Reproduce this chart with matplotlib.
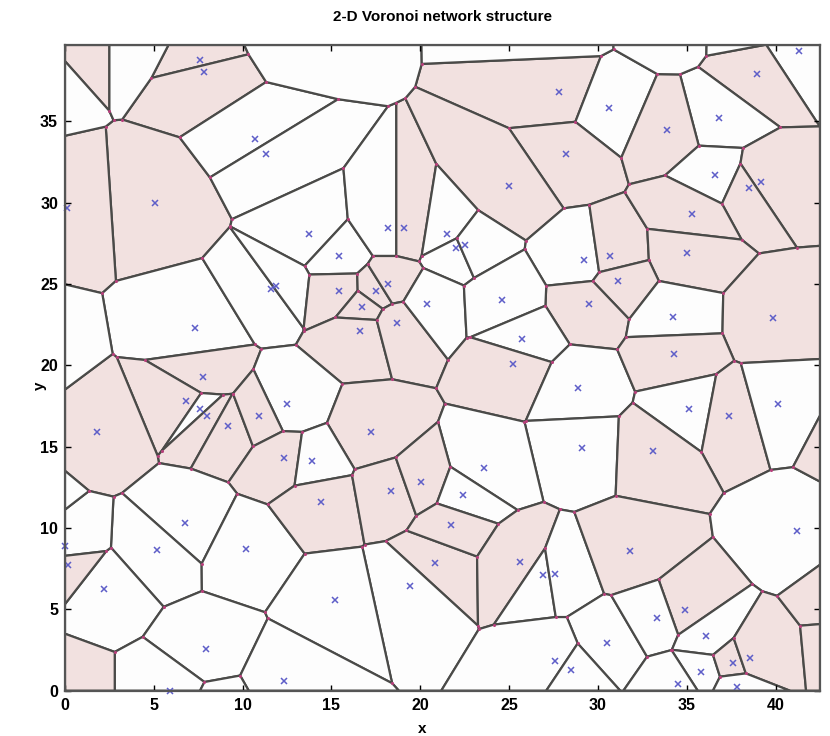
import numpy as np
import matplotlib
matplotlib.use("Agg")
import matplotlib.pyplot as plt
from matplotlib.patches import Polygon

plt.rcParams["font.family"] = ["Liberation Sans", "DejaVu Sans"]

# Nuclei of the network (x, y) and whether their cell is shaded
site_x = [7.6, 7.8, 5.07, 0.1, 10.7, 11.3, 13.75, 15.4, 18.2, 19.1,
          27.8, 30.6, 28.2, 25.0, 21.5, 22.0, 22.5, 29.2, 30.7, 41.3,
          38.97, 36.8, 33.9, 36.6, 39.15, 38.5, 35.3, 35.0, 7.3, 7.76,
          6.8, 7.6, 8.0, 9.17, 1.8, 11.6, 11.9, 15.45, 17.5, 18.2,
          16.7, 16.6, 18.7, 20.4, 12.5, 10.9, 17.2, 12.35, 13.9, 31.1,
          29.5, 24.6, 25.7, 25.2, 28.9, 29.1, 23.6, 34.2, 39.85, 34.3,
          35.1, 37.4, 40.15, 33.1, 6.76, 5.17, 10.2, 2.2, 0.0, 0.15,
          7.94, 5.9, 14.4, 18.35, 20.05, 20.8, 19.4, 15.2, 12.35, 22.4,
          21.75, 25.6, 26.9, 27.6, 31.8, 30.5, 27.6, 28.5, 41.2, 34.9,
          33.3, 36.1, 35.8, 37.6, 38.55, 34.5, 37.8]
site_y = [38.8, 38.05, 30.0, 29.7, 33.9, 33.0, 28.1, 26.7, 28.45, 28.45,
          36.8, 35.8, 33.0, 31.0, 28.1, 27.2, 27.4, 26.5, 26.7, 39.3,
          37.9, 35.2, 34.5, 31.7, 31.3, 30.9, 29.3, 26.9, 22.3, 19.3,
          17.8, 17.3, 16.9, 16.3, 15.9, 24.7, 24.9, 24.55, 24.6, 25.0,
          23.6, 22.1, 22.6, 23.8, 17.6, 16.9, 15.9, 14.3, 14.1, 25.2,
          23.8, 24.0, 21.6, 20.1, 18.6, 14.9, 13.7, 23.0, 22.9, 20.7,
          17.3, 16.9, 17.6, 14.75, 10.3, 8.66, 8.7, 6.24, 8.9, 7.7,
          2.55, 0.0, 11.6, 12.25, 12.8, 7.84, 6.44, 5.6, 0.6, 12.0,
          10.2, 7.9, 7.1, 7.2, 8.6, 2.95, 1.85, 1.3, 9.8, 4.97,
          4.45, 3.37, 1.17, 1.7, 2.0, 0.4, 0.25]
site_shaded = [1, 1, 1, 1, 0, 0, 0, 0, 0, 1,
               1, 0, 1, 1, 0, 0, 0, 0, 1, 0,
               1, 0, 1, 0, 1, 1, 1, 1, 0, 1,
               1, 0, 1, 1, 1, 0, 0, 1, 1, 1,
               1, 1, 1, 0, 0, 1, 1, 1, 0, 1,
               1, 0, 0, 1, 0, 0, 0, 0, 1, 1,
               0, 1, 0, 1, 0, 0, 0, 0, 0, 1,
               0, 0, 1, 1, 1, 1, 0, 0, 0, 0,
               1, 1, 0, 0, 1, 0, 0, 0, 0, 1,
               0, 0, 0, 1, 1, 0, 0]

# Nuclei lying just outside the plotted window (no marker drawn)
outer_x = [1.0, -1.96, 4.0, 12.5, 27.6, 34.0, 38.3, -2.2, -2.2, -0.3, 8.7, 44.5, 44.2, 44.5]
outer_y = [40.5, 38.08, 40.5, 40.8, 41.0, 41.3, 41.2, 20.8, 11.5, 0.0, -1.3, 15.5, 6.0, 2.5]
outer_shaded = [1, 0, 0, 0, 0, 0, 0, 0, 0, 1, 0, 1, 1, 1]

x_ticks = [0, 5, 10, 15, 20, 25, 30, 35, 40]
y_ticks = [0, 5, 10, 15, 20, 25, 30, 35]
XMAX, YMAX = 42.5, 39.7


def clip_halfplane(poly, a, b, c):
    """Keep the part of a convex polygon where a*x + b*y <= c."""
    out = []
    n = len(poly)
    for k in range(n):
        p, q = poly[k], poly[(k + 1) % n]
        fp = a * p[0] + b * p[1] - c
        fq = a * q[0] + b * q[1] - c
        if fp <= 0:
            out.append(p)
        if fp * fq < 0:
            t = fp / (fp - fq)
            out.append((p[0] + t * (q[0] - p[0]), p[1] + t * (q[1] - p[1])))
    return out


all_x = np.array(site_x + outer_x, dtype=float)
all_y = np.array(site_y + outer_y, dtype=float)
all_shaded = list(site_shaded) + list(outer_shaded)

cells = []
for i in range(len(all_x)):
    poly = [(0.0, 0.0), (XMAX, 0.0), (XMAX, YMAX), (0.0, YMAX)]
    for j in range(len(all_x)):
        if i == j:
            continue
        dx, dy = all_x[j] - all_x[i], all_y[j] - all_y[i]
        mx, my = (all_x[j] + all_x[i]) / 2, (all_y[j] + all_y[i]) / 2
        poly = clip_halfplane(poly, dx, dy, dx * mx + dy * my)
        if not poly:
            break
    cells.append(poly)

fig = plt.figure(figsize=(8.3, 7.36), dpi=100)
ax = fig.add_axes([0.0783, 0.0616, 0.9097, 0.8773])

PINK = "#f2e1e0"
WHITE = "#fdfdfd"
EDGE = "#4a4a48"

verts = []
for poly, sh in zip(cells, all_shaded):
    if len(poly) < 3:
        continue
    ax.add_patch(Polygon(poly, closed=True, facecolor=PINK if sh else WHITE,
                         edgecolor=EDGE, linewidth=1.6, joinstyle="round", zorder=1))
    for (vx, vy) in poly:
        if 1e-6 < vx < XMAX - 1e-6 and 1e-6 < vy < YMAX - 1e-6:
            verts.append((round(vx, 4), round(vy, 4)))

verts = np.array(sorted(set(verts)))
ax.plot(verts[:, 0], verts[:, 1], "o", ms=2.2, color="#b8407c", mec="none", zorder=3)
ax.plot(site_x, site_y, "x", ms=4.5, mew=1.1, color="#5e5ec8", zorder=4, clip_on=False)

ax.set_xlim(0, XMAX)
ax.set_ylim(0, YMAX)
ax.set_xticks(x_ticks)
ax.set_yticks(y_ticks)
ax.tick_params(direction="in", top=True, right=True, length=4, width=1.0,
               labelsize=11.5, pad=5)
for lab in ax.get_xticklabels() + ax.get_yticklabels():
    lab.set_fontweight("bold")
for sp in ax.spines.values():
    sp.set_linewidth(1.6)
    sp.set_color("#555555")
    sp.set_zorder(5)

ax.set_title("2-D Voronoi network structure", fontsize=11, fontweight="bold", pad=17)
ax.set_xlabel("x", fontsize=11, fontweight="bold")
ax.set_ylabel("y", fontsize=11, fontweight="bold")
ax.xaxis.set_label_coords(0.473, -0.048)
ax.yaxis.set_label_coords(-0.024, 0.472)

fig.savefig("out.png", dpi=100, facecolor="white")
